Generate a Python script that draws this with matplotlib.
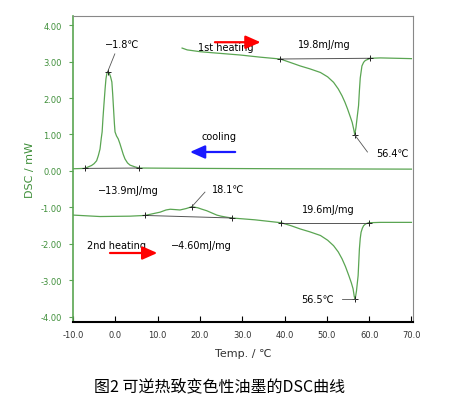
import matplotlib
matplotlib.use('Agg')
import matplotlib.pyplot as plt

# cooling run (exotherm up)
cool_T = [-10.0, -7.2, -5.6, -5.0, -4.4, -4.0, -3.6, -3.3, -3.1, -2.9, -2.7, -2.4, -2.2, -2.0, -1.8,
          -1.4, -1.1, -0.8, -0.6, -0.4, -0.2, -0.05, 0.3, 0.7, 1.1, 1.5, 1.9, 2.3, 2.9, 3.5, 4.7, 5.7,
          20.0, 40.0, 70.0]
cool_dsc = [0.06, 0.07, 0.15, 0.20, 0.28, 0.42, 0.60, 0.90, 1.07, 1.45, 1.78, 2.25, 2.52, 2.66, 2.72,
            2.68, 2.58, 2.44, 2.10, 1.70, 1.30, 1.07, 0.96, 0.88, 0.75, 0.60, 0.45, 0.33, 0.22, 0.16, 0.11, 0.08,
            0.07, 0.06, 0.05]

# 1st heating
h1_T = [15.8, 17.0, 20.1, 23.1, 29.5, 34.3, 39.0, 41.5, 43.7, 46.0, 48.5, 50.2, 51.6, 52.7, 53.6, 54.3,
        54.9, 55.5, 56.0, 56.4, 56.6, 56.9, 57.2, 57.5, 57.7, 57.9, 58.3, 58.7, 59.1, 60.3, 62.7, 70.0]
h1_dsc = [3.37, 3.32, 3.27, 3.24, 3.18, 3.12, 3.07, 2.97, 2.88, 2.80, 2.70, 2.58, 2.43, 2.25, 2.06, 1.88,
          1.70, 1.50, 1.33, 1.12, 0.99, 1.20, 1.50, 1.79, 2.20, 2.55, 2.88, 2.98, 3.03, 3.09, 3.10, 3.08]

# 2nd heating
h2_T = [-10.0, -3.6, 3.5, 7.0, 9.0, 10.6, 12.0, 13.0, 14.2, 15.3, 16.8, 18.1, 19.5, 20.5, 21.6, 23.0,
        24.0, 25.0, 26.4, 27.6, 33.0, 39.2, 41.5, 43.7, 46.0, 48.5, 50.2, 51.6, 52.7, 53.6, 54.4, 55.2,
        55.8, 56.2, 56.5, 56.7, 57.0, 57.4, 57.7, 57.9, 58.1, 58.4, 58.7, 59.2, 59.9, 62.7, 70.0]
h2_dsc = [-1.21, -1.25, -1.24, -1.22, -1.17, -1.13, -1.07, -1.05, -1.06, -1.07, -1.03, -0.98, -1.01, -1.05,
          -1.09, -1.16, -1.21, -1.24, -1.27, -1.29, -1.34, -1.42, -1.50, -1.59, -1.67, -1.77, -1.90, -2.05,
          -2.22, -2.41, -2.62, -2.87, -3.07, -3.23, -3.45, -3.51, -3.30, -2.87, -2.14, -1.85, -1.68, -1.57,
          -1.50, -1.45, -1.42, -1.41, -1.41]

# integration baselines (start, end)
base_T = [(-7.2, 5.7), (39.0, 60.3), (7.0, 27.6), (39.2, 59.9)]
base_dsc = [(0.07, 0.08), (3.07, 3.09), (-1.22, -1.29), (-1.42, -1.42)]

# peak points
peak_T = [-1.8, 56.6, 18.1, 56.7]
peak_dsc = [2.72, 0.99, -0.98, -3.51]

xticks = [-10, 0, 10, 20, 30, 40, 50, 60, 70]
yticks = [4, 3, 2, 1, 0, -1, -2, -3, -4]

green = '#5aa552'
dark_green = '#3f8f3a'

fig = plt.figure(figsize=(4.53, 4.14), dpi=100)
ax = fig.add_axes([0.161, 0.220, 0.751, 0.739])

ax.plot(cool_T, cool_dsc, color=green, lw=0.9)
ax.plot(h1_T, h1_dsc, color=green, lw=0.9)
ax.plot(h2_T, h2_dsc, color=green, lw=0.9)

for bt, bd in zip(base_T, base_dsc):
    ax.plot(bt, bd, color='#555555', lw=0.7, marker='+', ms=4, mew=0.7, mec='#222222')
ax.plot(peak_T, peak_dsc, ls='none', marker='+', ms=4, mew=0.7, color='#222222')

ax.set_xlim(-10, 70.4)
ax.set_ylim(-4.14, 4.25)
ax.set_xticks(xticks)
ax.set_xticklabels(['%.1f' % t for t in xticks], fontsize=6, color='#333333')
ax.set_yticks(yticks)
ax.set_yticklabels(['%.2f' % t for t in yticks], fontsize=6, color=dark_green)
ax.tick_params(axis='x', direction='in', length=4, width=0.8, pad=6)
ax.tick_params(axis='y', direction='out', length=3, width=0.8, color=green, pad=5)

ax.spines['left'].set_color(green)
ax.spines['left'].set_linewidth(1.2)
ax.spines['bottom'].set_color('black')
ax.spines['bottom'].set_linewidth(1.5)
ax.spines['top'].set_color('#888888')
ax.spines['right'].set_color('#888888')
ax.spines['top'].set_linewidth(0.8)
ax.spines['right'].set_linewidth(0.8)

ax.set_xlabel('Temp. / \u2103', fontsize=8, color='#333333', labelpad=6)
ax.set_ylabel('DSC / mW', fontsize=8, color=dark_green, labelpad=4)

fs = 7
# peak temperature labels with leader lines
ax.plot([-1.8, -0.1], [2.72, 3.21], color='#555555', lw=0.6)
ax.text(1.6, 3.48, '\u22121.8\u2103', fontsize=fs, ha='center', va='center')
ax.plot([56.6, 59.6], [0.99, 0.52], color='#555555', lw=0.6)
ax.text(65.5, 0.50, '56.4\u2103', fontsize=fs, ha='center', va='center')
ax.plot([18.1, 21.2], [-0.98, -0.58], color='#555555', lw=0.6)
ax.text(26.7, -0.49, '18.1\u2103', fontsize=fs, ha='center', va='center')
ax.plot([56.7, 53.7], [-3.51, -3.51], color='#555555', lw=0.6)
ax.text(47.7, -3.51, '56.5\u2103', fontsize=fs, ha='center', va='center')

# enthalpies
ax.text(49.4, 3.48, '19.8mJ/mg', fontsize=fs, ha='center', va='center')
ax.text(3.0, -0.52, '\u221213.9mJ/mg', fontsize=fs, ha='center', va='center')
ax.text(50.4, -1.04, '19.6mJ/mg', fontsize=fs, ha='center', va='center')
ax.text(20.3, -2.03, '\u22124.60mJ/mg', fontsize=fs, ha='center', va='center')

# run labels and arrows
arrow = '-|>,head_length=0.9,head_width=0.4'
ax.text(26.2, 3.40, '1st heating', fontsize=fs, ha='center', va='center')
ax.annotate('', xy=(35.0, 3.53), xytext=(22.9, 3.53),
            arrowprops=dict(arrowstyle=arrow, color='red', lw=1.6))
ax.text(24.6, 0.96, 'cooling', fontsize=fs, ha='center', va='center')
ax.annotate('', xy=(17.0, 0.52), xytext=(29.0, 0.52),
            arrowprops=dict(arrowstyle=arrow, color='#1a1aff', lw=1.6))
ax.text(0.4, -2.03, '2nd heating', fontsize=fs, ha='center', va='center')
ax.annotate('', xy=(10.6, -2.25), xytext=(-1.9, -2.25),
            arrowprops=dict(arrowstyle=arrow, color='red', lw=1.6))

fig.text(220 / 453, 1 - 387 / 414, '图2 可逆热致变色性油墨的DSC曲线', fontsize=11.5,
         family=['Noto Sans CJK SC', 'DejaVu Sans'], ha='center', va='center')

fig.savefig('out.png', dpi=100)
